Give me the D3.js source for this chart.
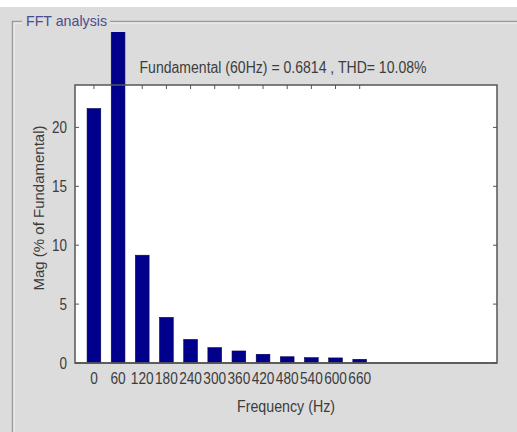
<!DOCTYPE html>
<html>
<head>
<meta charset="utf-8">
<script src="https://cdn.jsdelivr.net/npm/d3@7"></script>
<style>
html,body{margin:0;padding:0;background:#fff;}
svg{display:block;}
text{font-family:"Liberation Sans",Arial,sans-serif;}
</style>
</head>
<body>
<script>
// Data
const frequencies = [0, 60, 120, 180, 240, 300, 360, 420, 480, 540, 600, 660];
const magnitudes  = [21.6, 100, 9.15, 3.87, 2.0, 1.3, 1.02, 0.74, 0.53, 0.45, 0.43, 0.31];
const yTicks = [0, 5, 10, 15, 20];
const xTicks = frequencies;
const titleText = "FFT analysis";
const infoText = "Fundamental (60Hz) = 0.6814 , THD= 10.08%";

const W = 517, H = 432;
const svg = d3.select("body").append("svg").attr("width", W).attr("height", H);
const txtCol = "#3c3c3c";

// background
svg.append("rect").attr("x",0).attr("y",0).attr("width",W).attr("height",H).attr("fill","#ffffff");
svg.append("rect").attr("x",0).attr("y",7).attr("width",W).attr("height",H-7).attr("fill","#dcdcdc");

// panel etched border
const pb = svg.append("g");
pb.append("path").attr("d","M12.5,432 L12.5,21.5 L22,21.5 M110,21.5 L517,21.5")
  .attr("fill","none").attr("stroke","#9a9a9a").attr("stroke-width",1.5);
pb.append("path").attr("d","M14,432 L14,23 L22,23 M110,23 L517,23")
  .attr("fill","none").attr("stroke","#f2f2f2").attr("stroke-width",1);
svg.append("text").attr("x",26).attr("y",26).attr("font-size",15)
  .attr("textLength",81).attr("lengthAdjust","spacingAndGlyphs")
  .attr("fill","#4b4b8f").text(titleText);

// plot area
const L = 75, R = 497, T = 85, B = 363;
const x = d3.scaleLinear().domain([-47, 1001]).range([L, R]);
const y = d3.scaleLinear().domain([0, 23.6]).range([B, T]);
const barW = 34; // Hz

svg.append("rect").attr("x",L).attr("y",T).attr("width",R-L).attr("height",B-T).attr("fill","#ffffff");

svg.append("defs").append("clipPath").attr("id","clip")
  .append("rect").attr("x",0).attr("y",32).attr("width",W).attr("height",H-32);

// ticks (inward) top & bottom & left & right
const tk = svg.append("g").attr("stroke","#555").attr("stroke-width",1);
xTicks.forEach(v=>{
  tk.append("line").attr("x1",x(v)).attr("x2",x(v)).attr("y1",T).attr("y2",T+4);
  tk.append("line").attr("x1",x(v)).attr("x2",x(v)).attr("y1",B).attr("y2",B-4);
});
yTicks.forEach(v=>{
  tk.append("line").attr("x1",L).attr("x2",L+4).attr("y1",y(v)).attr("y2",y(v));
  tk.append("line").attr("x1",R).attr("x2",R-4).attr("y1",y(v)).attr("y2",y(v));
});

// bars
svg.append("g").attr("clip-path","url(#clip)")
  .selectAll("rect").data(frequencies).join("rect")
  .attr("x", (d)=>x(d - barW/2))
  .attr("width", (d)=>x(d + barW/2) - x(d - barW/2))
  .attr("y", (d,i)=>y(magnitudes[i]))
  .attr("height", (d,i)=>B - y(magnitudes[i]))
  .attr("fill","#00008c").attr("stroke","#000050").attr("stroke-width",0.6);

// box
svg.append("rect").attr("x",L).attr("y",T).attr("width",R-L).attr("height",B-T)
  .attr("fill","none").attr("stroke","#555").attr("stroke-width",1.5);
svg.append("line").attr("x1",L).attr("x2",R).attr("y1",B).attr("y2",B).attr("stroke","#555").attr("stroke-width",1.5);

// tick labels (condensed look)
const tl = svg.append("g").attr("font-size",16).attr("fill",txtCol);
xTicks.forEach(v=>{
  tl.append("text").attr("x",x(v)).attr("y",384).attr("text-anchor","middle")
    .attr("textLength", String(v).length*7.6).attr("lengthAdjust","spacingAndGlyphs").text(v);
});
yTicks.forEach(v=>{
  tl.append("text").attr("x",67).attr("y",y(v)+6).attr("text-anchor","end")
    .attr("textLength", String(v).length*7.5).attr("lengthAdjust","spacingAndGlyphs").text(v);
});

// labels
svg.append("text").attr("x",(L+R)/2).attr("y",412).attr("text-anchor","middle")
  .attr("font-size",16).attr("fill",txtCol)
  .attr("textLength",98).attr("lengthAdjust","spacingAndGlyphs").text("Frequency (Hz)");
svg.append("text").attr("transform","translate(44,208) rotate(-90)").attr("text-anchor","middle")
  .attr("font-size",15).attr("fill",txtCol)
  .attr("textLength",165).attr("lengthAdjust","spacingAndGlyphs").text("Mag (% of Fundamental)");
svg.append("text").attr("x",283).attr("y",73).attr("text-anchor","middle")
  .attr("font-size",16).attr("fill",txtCol).attr("textLength",287).attr("lengthAdjust","spacingAndGlyphs")
  .text(infoText);
</script>
</body>
</html>
